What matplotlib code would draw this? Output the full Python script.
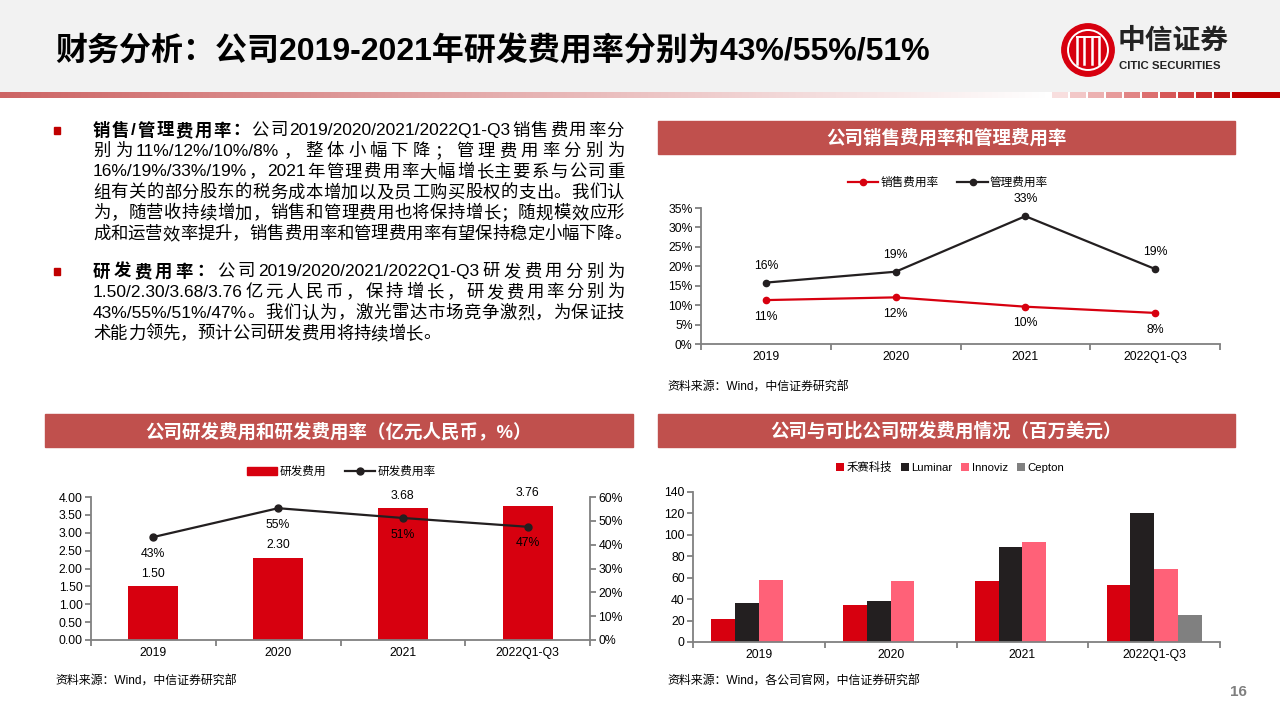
import matplotlib
matplotlib.use("Agg")
import matplotlib.pyplot as plt
from matplotlib.patches import Rectangle, Circle
from matplotlib.lines import Line2D
import numpy as np

plt.rcParams['font.family'] = ['Liberation Sans', 'Noto Sans CJK SC']
plt.rcParams['axes.unicode_minus'] = False

###############################################################################
# DATA
categories = ["2019", "2020", "2021", "2022Q1-Q3"]

# top right: sales / admin expense ratio (%)
sales_ratio = [11.3, 12.0, 9.6, 8.0]
admin_ratio = [15.8, 18.6, 32.9, 19.3]
sales_labels = ["11%", "12%", "10%", "8%"]
admin_labels = ["16%", "19%", "33%", "19%"]

# bottom left: R&D expense (100m RMB) and R&D ratio (%)
rd_expense = [1.50, 2.30, 3.68, 3.76]
rd_ratio = [43.2, 55.3, 51.2, 47.5]
rd_ratio_labels = ["43%", "55%", "51%", "47%"]

# bottom right: peer R&D expense (USD m)
peer_names = ["禾赛科技", "Luminar", "Innoviz", "Cepton"]
hesai_rd = [21.2, 34.8, 57.2, 52.9]
luminar_rd = [36.7, 38.3, 89.0, 120.0]
innoviz_rd = [57.9, 56.9, 93.3, 68.4]
cepton_rd = [0.0, 0.0, 0.0, 24.9]

title = "财务分析：公司2019-2021年研发费用率分别为43%/55%/51%"
para1 = [
    ([("销售/管理费用率：", True), ("公司2019/2020/2021/2022Q1-Q3销售费用率分", False)], True),
    ([("别为 11%/12%/10%/8% ，整体小幅下降；管理费用率分别为", False)], True),
    ([("16%/19%/33%/19%，2021年管理费用率大幅增长主要系与公司重", False)], True),
    ([("组有关的部分股东的税务成本增加以及员工购买股权的支出。我们认", False)], True),
    ([("为，随营收持续增加，销售和管理费用也将保持增长；随规模效应形", False)], True),
    ([("成和运营效率提升，销售费用率和管理费用率有望保持稳定小幅下降。", False)], False),
]
para2 = [
    ([("研发费用率：", True), ("公司2019/2020/2021/2022Q1-Q3研发费用分别为", False)], True),
    ([("1.50/2.30/3.68/3.76亿元人民币，保持增长，研发费用率分别为", False)], True),
    ([("43%/55%/51%/47%。我们认为，激光雷达市场竞争激烈，为保证技", False)], True),
    ([("术能力领先，预计公司研发费用将持续增长。", False)], False),
]
###############################################################################

W, H = 1280, 720
RED = "#d7000f"
BLACK = "#231f20"
PINK = "#ff6178"
GREY = "#808080"
HEADER = "#c0504d"
AXIS = "#808080"

fig = plt.figure(figsize=(W / 100, H / 100), dpi=100)
renderer = fig.canvas.get_renderer()


def fx(x):
    return x / W


def fy(y):
    return 1 - y / H


def px_rect(x0, y0, x1, y1):
    return [x0 / W, 1 - y1 / H, (x1 - x0) / W, (y1 - y0) / H]


# page header background
fig.patches.append(Rectangle((0, fy(91)), 1, 91 / H, transform=fig.transFigure,
                             color="#f2f2f2", zorder=-5))

# red gradient strip under the header
strip = np.ones((1, W, 3))
left_red = np.array([205, 100, 100]) / 255
for i in range(1045):
    t = i / 1045
    strip[0, i] = left_red * (1 - t) + np.ones(3) * t
x = 1052
blocks = 11
for b in range(blocks):
    c = np.array([248, 222, 222]) / 255 * (1 - b / (blocks - 1)) + np.array([192, 0, 0]) / 255 * (b / (blocks - 1))
    w = 16 if b < blocks - 1 else W - x
    strip[0, x:x + w] = c
    x += w + 2
ax_strip = fig.add_axes(px_rect(0, 92, W, 98))
ax_strip.imshow(strip, aspect="auto", interpolation="nearest")
ax_strip.axis("off")

fig.text(fx(55), fy(52), title, fontsize=23, weight="bold", va="center", ha="left", color="black")

# logo
ax_logo = fig.add_axes(px_rect(1061, 23, 1115, 77), zorder=5)
ax_logo.set_xlim(-1, 1)
ax_logo.set_ylim(-1, 1)
ax_logo.set_aspect("equal")
ax_logo.axis("off")
ax_logo.add_patch(Circle((0, 0), 0.97, color="#d7000f"))
ax_logo.add_patch(Circle((0, 0), 0.74, fill=False, ec="white", lw=1.4))
for xv in [-0.42, -0.14, 0.14, 0.42]:
    ax_logo.plot([xv, xv], [-0.5, 0.5], color="white", lw=1.8)
ax_logo.plot([-0.42, 0.42], [0.5, 0.5], color="white", lw=1.4)
fig.text(fx(1118), fy(42), "中信证券", fontsize=20, weight="bold", va="center", ha="left", color="#222222")
fig.text(fx(1119), fy(66), "CITIC SECURITIES", fontsize=8.2, weight="bold", va="center", ha="left", color="#222222")

# body text (justified lines)
BODY_FS = 12.5
EM = BODY_FS * 100 / 72
TEXT_L, TEXT_R = 93, 624


def draw_line(y, parts, justify):
    tokens = []
    for s, bold in parts:
        buf = ""
        for ch in s:
            if ord(ch) < 128:
                buf += ch
            else:
                if buf.strip():
                    tokens.append((buf.strip(), bold, False))
                buf = ""
                tokens.append((ch, bold, True))
        if buf.strip():
            tokens.append((buf.strip(), bold, False))
    arts, widths = [], []
    for s, bold, cjk in tokens:
        t = fig.text(0, fy(y), s, fontsize=BODY_FS, weight="bold" if bold else "normal",
                     va="center", ha="left", color="black")
        arts.append(t)
        widths.append(EM if cjk else t.get_window_extent(renderer).width)
    gap = (TEXT_R - TEXT_L - sum(widths)) / (len(arts) - 1) if justify else 0
    xx = TEXT_L
    for t, w in zip(arts, widths):
        t.set_x(fx(xx))
        xx += w + gap


for i, (parts, just) in enumerate(para1):
    draw_line(130.7 + 20.65 * i, parts, just)
for i, (parts, just) in enumerate(para2):
    draw_line(271.7 + 20.65 * i, parts, just)
for yb in [130.7, 271.7]:
    fig.patches.append(Rectangle((fx(54), fy(yb + 3.5)), 6 / W, 7 / H, transform=fig.transFigure,
                                 color="#c00000"))


# section headers
def header(x0, y0, x1, y1, text):
    fig.patches.append(Rectangle((fx(x0), fy(y1)), (x1 - x0) / W, (y1 - y0) / H,
                                 transform=fig.transFigure, color=HEADER))
    fig.text(fx((x0 + x1) / 2), fy((y0 + y1) / 2 + 1), text, fontsize=13.3, weight="bold",
             color="white", ha="center", va="center")


header(658, 121, 1235, 154, "公司销售费用率和管理费用率")
header(45, 414, 633, 447, "公司研发费用和研发费用率（亿元人民币，%）")
header(658, 414, 1235, 447, "公司与可比公司研发费用情况（百万美元）")

SRC_FS = 8.6
fig.text(fx(667), fy(388), "资料来源：Wind，中信证券研究部", fontsize=SRC_FS, va="center")
fig.text(fx(55), fy(682), "资料来源：Wind，中信证券研究部", fontsize=SRC_FS, va="center")
fig.text(fx(667), fy(682), "资料来源：Wind，各公司官网，中信证券研究部", fontsize=SRC_FS, va="center")
fig.text(fx(1238), fy(692), "16", fontsize=11, weight="bold", color="#7f7f7f", ha="center", va="center")

TICK_FS = 8.8
xpos = np.arange(len(categories))


def style_axes(ax, right=False):
    for s in ["top", "right"]:
        ax.spines[s].set_visible(False)
    for s in ["left", "bottom"]:
        ax.spines[s].set_color(AXIS)
        ax.spines[s].set_linewidth(1.3)
    ax.set_xlim(-0.5, len(categories) - 0.5)
    ax.set_xticks(np.arange(-0.5, len(categories), 1.0))
    ax.set_xticklabels([])
    ax.set_xticks(xpos, minor=True)
    ax.set_xticklabels(categories, minor=True, fontsize=TICK_FS)
    ax.tick_params(axis="x", which="major", direction="out", length=4, color=AXIS, width=1.3)
    ax.tick_params(axis="x", which="minor", length=0, pad=5)
    ax.tick_params(axis="y", direction="out", length=4, color=AXIS, width=1.3, labelsize=TICK_FS, pad=2)
    ax.patch.set_alpha(0)


# ---- top right: line chart
ax1 = fig.add_axes(px_rect(701, 208, 1220, 344))
style_axes(ax1)
ax1.set_ylim(0, 35)
ax1.set_yticks(np.arange(0, 36, 5))
ax1.set_yticklabels([f"{v}%" for v in range(0, 36, 5)])
ax1.plot(xpos, sales_ratio, "-o", color=RED, lw=1.6, ms=4.5, clip_on=False, zorder=3)
ax1.plot(xpos, admin_ratio, "-o", color=BLACK, lw=1.6, ms=4.5, clip_on=False, zorder=3)
for i in range(len(categories)):
    ax1.annotate(sales_labels[i], (xpos[i], sales_ratio[i]), xytext=(0, -12), textcoords="offset points",
                 ha="center", va="center", fontsize=TICK_FS, annotation_clip=False)
    ax1.annotate(admin_labels[i], (xpos[i], admin_ratio[i]), xytext=(0, 12), textcoords="offset points",
                 ha="center", va="center", fontsize=TICK_FS, annotation_clip=False)
h1 = [Line2D([], [], color=RED, marker="o", lw=1.6, ms=4.5),
      Line2D([], [], color=BLACK, marker="o", lw=1.6, ms=4.5)]
fig.legend(h1, ["销售费用率", "管理费用率"], loc="center", bbox_to_anchor=(fx(948), fy(183)),
           ncol=2, frameon=False, fontsize=8.4, handlelength=2.6, handletextpad=0.2, columnspacing=1.6)

# ---- bottom left: bars + ratio line
ax2 = fig.add_axes(px_rect(91, 497, 590, 640))
style_axes(ax2)
ax2.set_ylim(0, 4)
ax2.set_yticks(np.arange(0, 4.01, 0.5))
ax2.set_yticklabels([f"{v:.2f}" for v in np.arange(0, 4.01, 0.5)])
ax2.bar(xpos, rd_expense, width=0.4, color=RED, zorder=2)
for i in range(len(categories)):
    ax2.annotate(f"{rd_expense[i]:.2f}", (xpos[i], rd_expense[i]), xytext=(0, 9), textcoords="offset points",
                 ha="center", va="center", fontsize=TICK_FS, annotation_clip=False)
ax2r = ax2.twinx()
ax2r.set_position(px_rect(91, 497, 590, 640))
for s in ["top", "left", "bottom"]:
    ax2r.spines[s].set_visible(False)
ax2r.spines["right"].set_color(AXIS)
ax2r.spines["right"].set_linewidth(1.3)
ax2r.set_ylim(0, 60)
ax2r.set_yticks(np.arange(0, 61, 10))
ax2r.set_yticklabels([f"{v}%" for v in range(0, 61, 10)])
ax2r.tick_params(axis="y", direction="out", length=4, color=AXIS, width=1.3, labelsize=TICK_FS, pad=2)
ax2r.plot(xpos, rd_ratio, "-o", color=BLACK, lw=1.6, ms=5, zorder=3)
for i in range(len(categories)):
    ax2r.annotate(rd_ratio_labels[i], (xpos[i], rd_ratio[i]), xytext=(0, -12), textcoords="offset points",
                  ha="center", va="center", fontsize=TICK_FS, annotation_clip=False)
h2 = [Rectangle((0, 0), 1, 1, color=RED),
      Line2D([], [], color=BLACK, marker="o", lw=1.6, ms=5)]
fig.legend(h2, ["研发费用", "研发费用率"], loc="center", bbox_to_anchor=(fx(341), fy(472)),
           ncol=2, frameon=False, fontsize=8.4, handlelength=2.6, handleheight=0.6,
           handletextpad=0.2, columnspacing=1.6)

# ---- bottom right: grouped bars
ax3 = fig.add_axes(px_rect(693, 492, 1220, 642))
style_axes(ax3)
ax3.set_ylim(0, 140)
ax3.set_yticks(np.arange(0, 141, 20))
series = [hesai_rd, luminar_rd, innoviz_rd, cepton_rd]
colors = [RED, BLACK, PINK, GREY]
bw = 0.18
for k, (vals, col) in enumerate(zip(series, colors)):
    ax3.bar(xpos + (k - 1.5) * bw, vals, width=bw, color=col, label=peer_names[k], zorder=2)
fig.legend(*ax3.get_legend_handles_labels(), loc="center", bbox_to_anchor=(fx(950), fy(467)),
           ncol=4, frameon=False, fontsize=8.2, handlelength=0.7, handleheight=0.7,
           handletextpad=0.2, columnspacing=0.8)

fig.savefig("out.png", dpi=100)
